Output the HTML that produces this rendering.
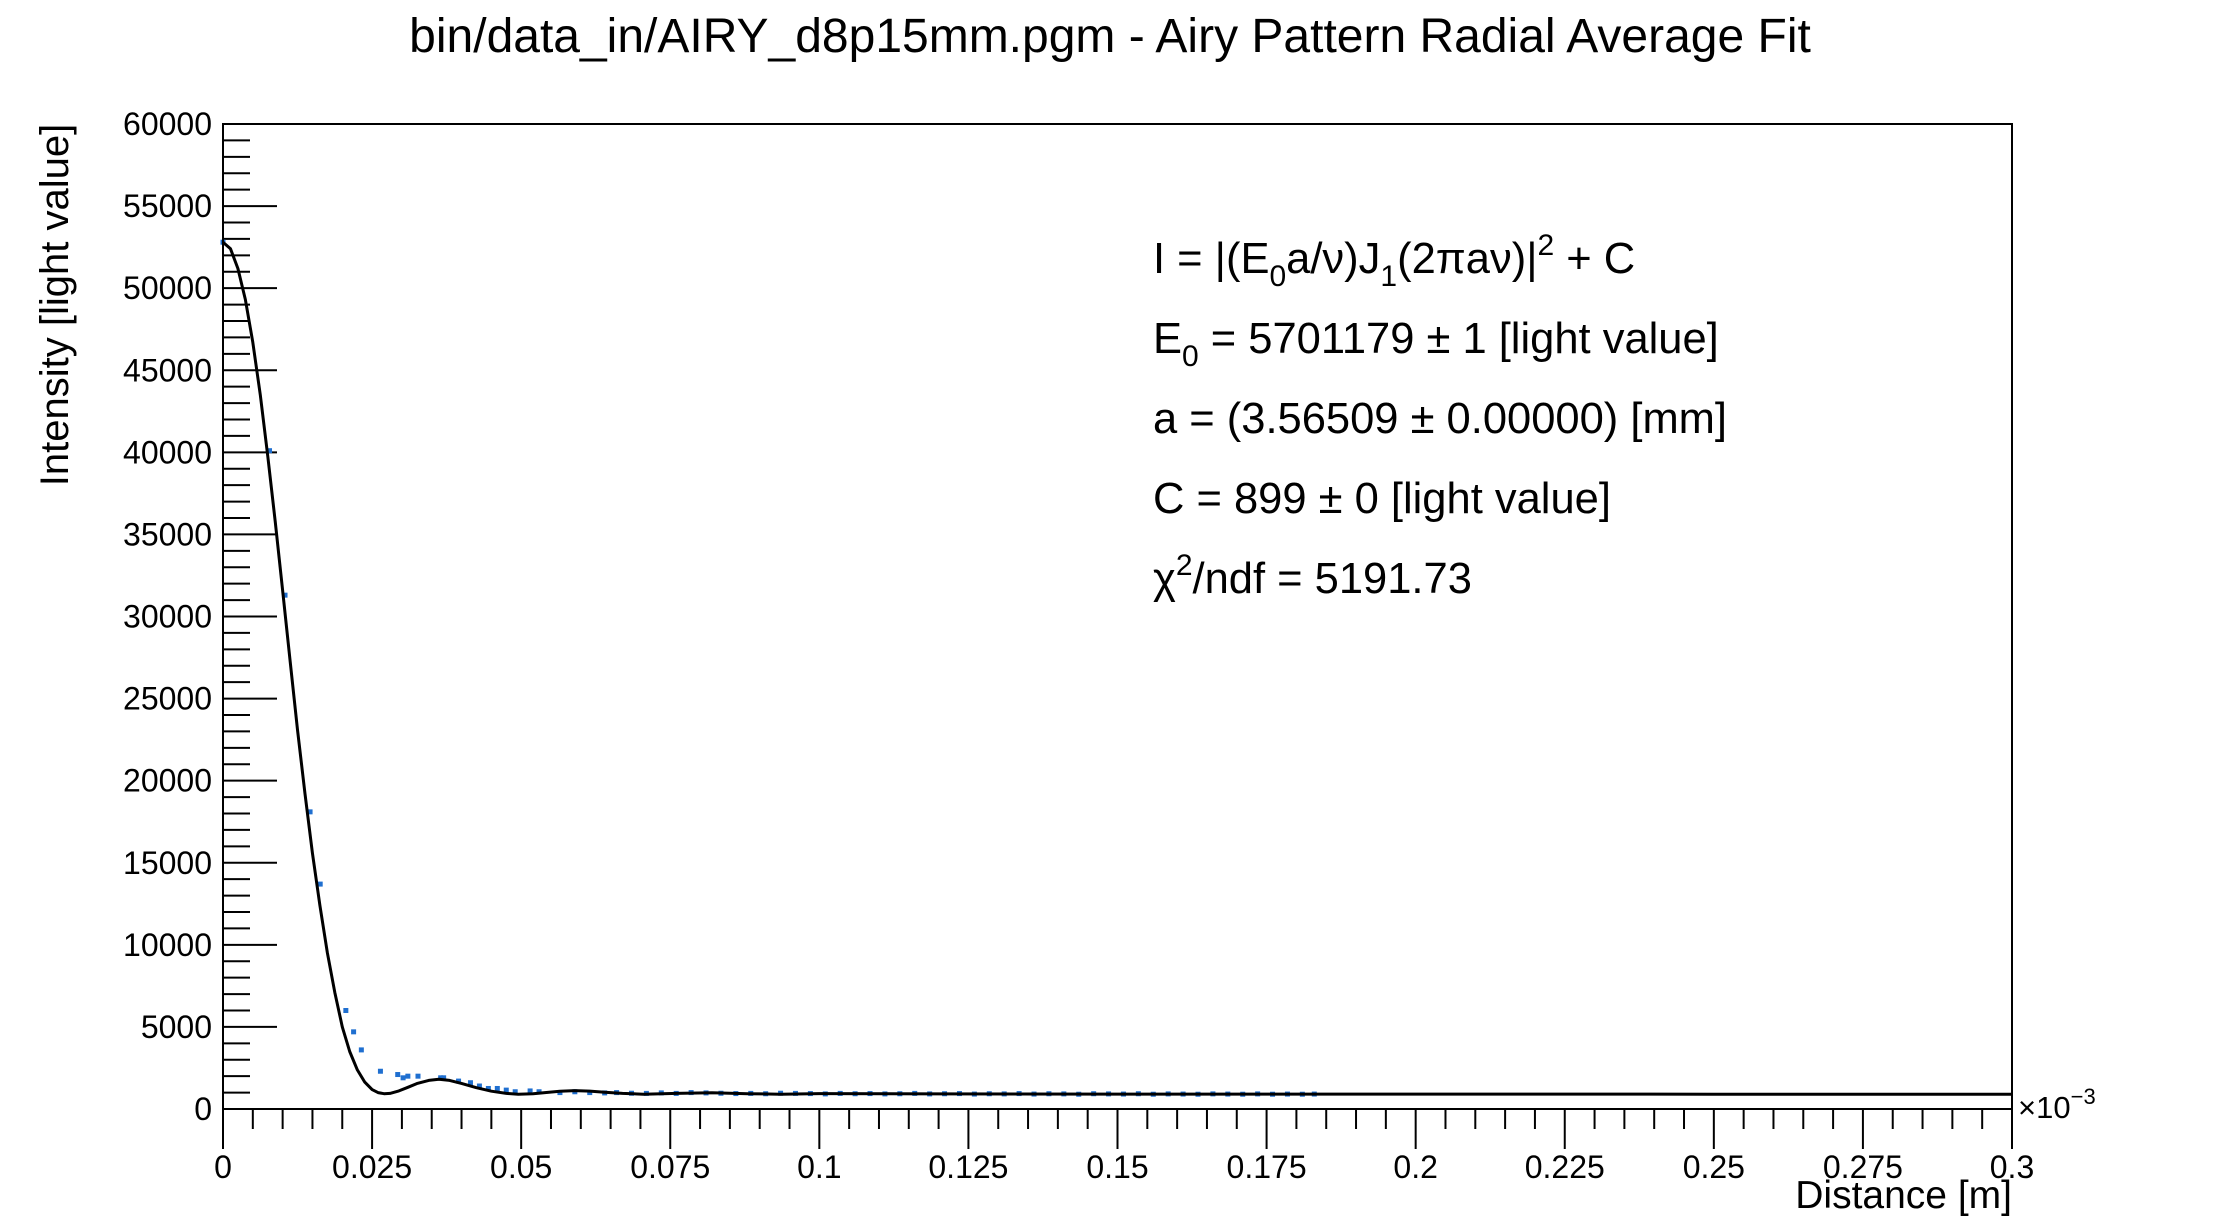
<!DOCTYPE html>
<html><head><meta charset="utf-8"><style>
html,body{margin:0;padding:0;background:#fff;}
svg{display:block;font-family:"Liberation Sans",Arial,sans-serif;}
</style></head><body>
<svg id="chart" width="2236" height="1232" viewBox="0 0 2236 1232" xmlns="http://www.w3.org/2000/svg">
<rect width="2236" height="1232" fill="#fff"/>
<text x="1110" y="52" font-size="48" text-anchor="middle">bin/data_in/AIRY_d8p15mm.pgm - Airy Pattern Radial Average Fit</text>
<g id="ticks"></g>
<g id="marks"></g>
<rect x="223" y="124" width="1789" height="985" fill="none" stroke="#000" stroke-width="2"/>
<text transform="translate(68,305) rotate(-90)" font-size="40" text-anchor="middle">Intensity [light value]</text>
<text x="2012" y="1208" font-size="39" text-anchor="end">Distance [m]</text>
<text x="2018" y="1118" font-size="31">×10<tspan font-size="22" dy="-14">−3</tspan></text>
<g font-size="43.5">
<text x="1153" y="273">I = |(E<tspan font-size="30" dy="13">0</tspan><tspan dy="-13">a/ν)J</tspan><tspan font-size="30" dy="13">1</tspan><tspan dy="-13">(2πaν)|</tspan><tspan font-size="30" dy="-18">2</tspan><tspan dy="18"> + C</tspan></text>
<text x="1153" y="353">E<tspan font-size="30" dy="13">0</tspan><tspan dy="-13"> = 5701179 ± 1 [light value]</tspan></text>
<text x="1153" y="433">a = (3.56509 ± 0.00000) [mm]</text>
<text x="1153" y="513">C = 899 ± 0 [light value]</text>
<text x="1153" y="593">χ<tspan font-size="30" dy="-18">2</tspan><tspan dy="18">/ndf = 5191.73</tspan></text>
</g>
</svg>
<script>
const xTickLabels = ["0","0.025","0.05","0.075","0.1","0.125","0.15","0.175","0.2","0.225","0.25","0.275","0.3"];
const yTickLabels = ["0","5000","10000","15000","20000","25000","30000","35000","40000","45000","50000","55000","60000"];
const fitX = [0,0.00125,0.0025,0.00375,0.005,0.00625,0.0075,0.00875,0.01,0.01125,0.0125,0.01375,0.015,0.01625,0.0175,0.01875,0.02,0.02125,0.0225,0.02375,0.025,0.026,0.027,0.028,0.0295,0.031,0.0325,0.0345,0.0362,0.038,0.04,0.0425,0.045,0.0475,0.0495,0.052,0.054,0.0565,0.059,0.0615,0.064,0.067,0.0705,0.076,0.082,0.088,0.0935,0.1,0.12,0.15,0.2,0.25,0.3];
const fitY = [52800,52400,51200,49300,46700,43500,39800,35800,31600,27300,23100,19200,15600,12400,9500,7100,5000,3500,2400,1650,1180,1000,930,950,1100,1320,1550,1740,1810,1740,1560,1300,1085,950,900,930,1000,1080,1118,1090,1020,950,900,950,985,930,900,940,920,910,905,903,900];
const dataX = [0,0.0078,0.0104,0.0146,0.0163,0.0206,0.0219,0.0232,0.0264,0.0293,0.0302,0.031,0.0327,0.0365,0.037,0.0395,0.0415,0.043,0.0445,0.046,0.0475,0.049,0.0515,0.053,0.0565,0.059,0.0615,0.064,0.066,0.0685,0.071,0.0735,0.076,0.0785,0.081,0.0835,0.086,0.0885,0.091,0.0935,0.096,0.0985,0.101,0.1035,0.106,0.1085,0.111,0.1135,0.116,0.1185,0.121,0.1235,0.126,0.1285,0.131,0.1335,0.136,0.1385,0.141,0.1435,0.146,0.1485,0.151,0.1535,0.156,0.1585,0.161,0.1635,0.166,0.1685,0.171,0.1735,0.176,0.1785,0.181,0.183];
const dataY = [52800,40100,31300,18100,13700,6000,4700,3600,2300,2100,1900,2000,2000,1900,1900,1700,1600,1400,1250,1250,1150,1050,1100,1050,1000,1050,1000,980,1000,960,950,980,950,1000,980,960,940,950,930,960,950,940,920,950,930,940,920,930,950,920,930,940,910,930,920,940,910,930,920,900,930,920,910,930,900,920,910,900,920,910,900,920,900,910,900,910];

const L=223,R=2012,T=124,B=1109,XMAX=0.3,YMAX=60000;
const sx=v=>L+(R-L)*v/XMAX, sy=v=>B-(B-T)*v/YMAX;
const NS="http://www.w3.org/2000/svg";
const ticks=document.getElementById('ticks'), marks=document.getElementById('marks');
function mk(tag,attrs,parent){const e=document.createElementNS(NS,tag);for(const k in attrs)e.setAttribute(k,attrs[k]);parent.appendChild(e);return e;}
for(let i=0;i<=60;i++){
  const v=i*0.005, x=sx(v), major=i%5===0;
  const t=mk('line',{x1:x,x2:x,y1:B,y2:B+(major?40:20),stroke:'#000','stroke-width':2},ticks);
  
  
}
xTickLabels.forEach((s,i)=>{
  const t=mk('text',{x:sx(i*0.025),y:1178,'font-size':32,'text-anchor':'middle'},ticks);
  t.textContent=s;
  
  
});
for(let i=0;i<=60;i++){
  const v=i*1000, y=sy(v), major=i%5===0;
  const t=mk('line',{x1:L,x2:L+(major?54:27),y1:y,y2:y,stroke:'#000','stroke-width':2},ticks);
  
  
}
yTickLabels.forEach((s,i)=>{
  const t=mk('text',{x:212,y:sy(i*5000)+11,'font-size':32,'text-anchor':'end'},ticks);
  t.textContent=s;
  
  
});
dataX.forEach((x,i)=>{
  const r=mk('rect',{x:sx(x)-2.5,y:sy(dataY[i])-2.5,width:5,height:5,fill:'#1f6fd0'},marks);
  
  
});
const d=fitX.map((x,i)=>(i?'L':'M')+sx(x).toFixed(1)+','+sy(fitY[i]).toFixed(1)).join(' ');
const p=mk('path',{d:d,fill:'none',stroke:'#000','stroke-width':3,'stroke-linejoin':'round'},marks);


</script>
</body></html>
